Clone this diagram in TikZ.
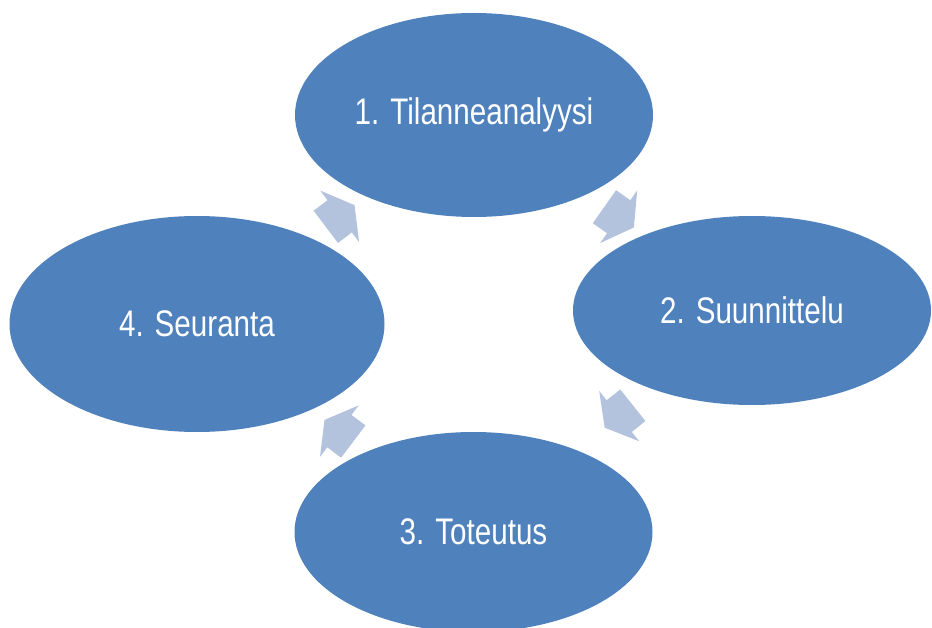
\documentclass[tikz,border=0pt]{standalone}
\usepackage{fontspec}
\setmainfont{Liberation Sans}[FakeStretch=0.8]
\usetikzlibrary{shapes.geometric,shapes.arrows}
\definecolor{phasefill}{RGB}{79,129,189}
\definecolor{arrowfill}{RGB}{179,195,222}
\begin{document}
\begin{tikzpicture}[x=1pt,y=-1pt,
  phase/.style={ellipse,fill=phasefill,text=white,inner sep=0pt,minimum width=358pt,
    font=\fontsize{37}{44}\selectfont},
  cyclearrow/.style={single arrow,fill=arrowfill,inner xsep=0pt,inner ysep=20pt,
    minimum height=36pt,single arrow head extend=12pt,single arrow tip angle=120,
    sloped,allow upside down}]
\useasboundingbox (0,0) rectangle (932,628);
\clip (0,0) rectangle (932,628);
\node[phase,minimum height=204pt] (e1) at (474,115) {1. Tilanneanalyysi};
\node[phase,minimum height=189pt] (e2) at (752,310.5) {2. Suunnittelu};
\node[phase,minimum height=200pt] (e3) at (473.5,532) {3. Toteutus};
\node[phase,minimum width=375pt,minimum height=216pt] (e4) at (197,324) {4. Seuranta};
\path (e1.center) -- (e2.center) node[cyclearrow,pos=0.505] (a12) {};
\path (e2.center) -- (e3.center) node[cyclearrow,pos=0.462] (a23) {};
\path (e3.center) -- (e4.center) node[cyclearrow,pos=0.47] (a34) {};
\path (e4.center) -- (e1.center) node[cyclearrow,pos=0.5] (a41) {};
\end{tikzpicture}
\end{document}
